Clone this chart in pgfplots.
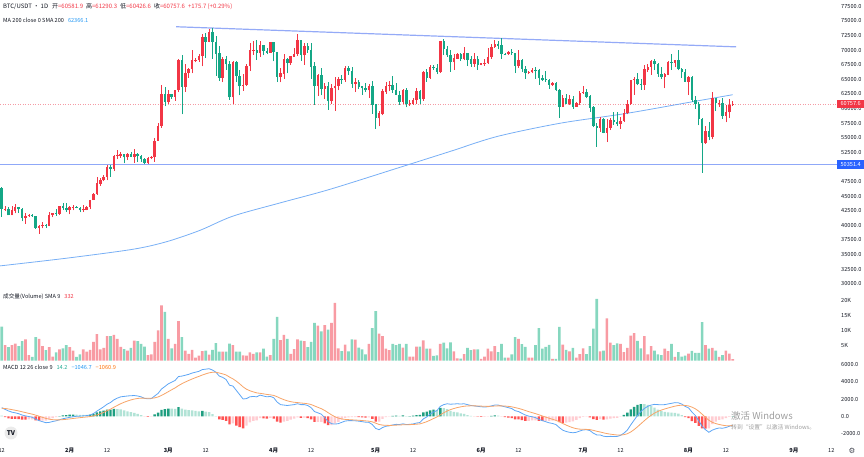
\documentclass[border=0pt]{standalone}
\usepackage{fontspec}
\setmainfont{Noto Sans CJK SC}
\newfontfamily\dejavu{DejaVu Sans}
\usepackage{pgfplots}
\usepackage{pgfplotstable}
\pgfplotsset{compat=1.18}

\definecolor{upc}{HTML}{F23645}
\definecolor{dnc}{HTML}{14A786}
\definecolor{volup}{HTML}{F89BA3}
\definecolor{voldn}{HTML}{86D7BF}
\definecolor{hdg}{HTML}{1E9E80}
\definecolor{hlg}{HTML}{B2E3D6}
\definecolor{hrd}{HTML}{FF5252}
\definecolor{hpk}{HTML}{FFCDD2}
\definecolor{macdc}{HTML}{5EA6F5}
\definecolor{sigc}{HTML}{F7A468}
\definecolor{mac}{HTML}{78AFF5}
\definecolor{trendc}{HTML}{94AAF7}
\definecolor{hlinec}{HTML}{8FA8F8}
\definecolor{badgeb}{HTML}{2962FF}
\definecolor{txt}{HTML}{131722}
\definecolor{txtg}{HTML}{434651}
\definecolor{bluet}{HTML}{2196F3}
\definecolor{oranget}{HTML}{FF6D00}
\definecolor{greent}{HTML}{22AB94}
\definecolor{dotc}{HTML}{F59AA3}

\pgfplotstableread{
n o h l c v m s g k
0 46340 46500 41500 42780 11.4 1000 930 70 1
1 42780 43250 42440 42840 5.2 800 904 -104 2
2 42840 43080 41720 41730 4.5 620 847 -227 2
3 41730 43400 41720 42510 5.2 480 774 -294 2
4 42510 43580 42050 43150 5.7 400 699 -299 2
5 43150 43200 42200 42740 4.9 300 619 -319 2
6 42740 42930 40680 41260 6.5 150 525 -375 2
7 41260 42180 40280 41620 7.1 50 430 -380 2
8 41620 41870 41450 41660 1.9 -30 338 -368 3
9 41660 41870 41500 41550 1.3 -110 248 -358 3
10 41550 41690 39430 39510 7.9 -330 132 -462 2
11 39510 40130 38560 39870 7.3 -500 6 -506 2
12 39870 40550 39480 40080 4.9 -620 -119 -501 3
13 40080 40290 39540 39930 3.5 -740 -243 -497 3
14 39930 42210 39820 41820 4.5 -700 -334 -366 3
15 41820 42200 41390 42120 1.4 -600 -387 -213 3
16 42120 42840 41620 42030 2.8 -520 -414 -106 3
17 42030 43310 41800 43300 3.8 -400 -411 11 0
18 43300 43880 42680 42950 4.1 -280 -385 105 0
19 42950 43750 42290 42580 5.2 -200 -348 148 0
20 42580 43290 41880 43080 4.5 -120 -302 182 0
21 43080 43490 42580 43190 3.4 -50 -252 202 0
22 43190 43380 42890 43000 1.3 0 -202 202 1
23 43000 43120 42220 42580 2.1 20 -158 178 1
24 42580 43540 42260 42700 3.8 50 -116 166 1
25 42700 43400 42580 43090 3.0 80 -77 157 1
26 43090 44380 42790 44340 3.6 150 -32 182 0
27 44340 45600 44330 45290 6.3 320 38 282 0
28 45290 48200 45250 47130 8.9 600 150 450 0
29 47130 48170 46800 47750 3.8 850 290 560 0
30 47750 48590 47540 48290 4.3 1100 452 648 0
31 48290 50330 47710 49960 8.2 1400 642 758 0
32 49960 50370 48300 49700 8.2 1600 834 766 0
33 49700 52040 49280 51800 8.6 1900 1047 853 0
34 51800 52820 51320 51940 7.3 2100 1258 842 1
35 51940 52580 51600 52130 4.6 2250 1456 794 1
36 52130 52190 50620 51660 3.9 2300 1625 675 1
37 51660 52370 51150 52120 3.4 2350 1770 580 1
38 52120 52490 51680 51780 4.3 2380 1892 488 1
39 51780 53000 50640 52260 6.7 2400 1994 406 1
40 52260 52370 50830 51850 6.5 2350 2065 285 1
41 51850 52100 50880 51300 5.6 2250 2102 148 1
42 51300 51550 50500 50740 4.7 2080 2098 -18 2
43 50740 51700 50580 51570 1.9 2020 2082 -62 2
44 51570 51950 51290 51730 2.1 2050 2076 -26 3
45 51730 54940 50900 54480 6.3 2350 2131 219 0
46 54480 57590 54450 57040 10.1 2650 2235 415 0
47 57040 64000 56690 62430 18.4 3150 2418 732 0
48 62430 63680 60360 61130 16.3 3450 2624 826 0
49 61130 63110 60780 62390 7.3 3750 2849 901 0
50 62390 62430 61660 61990 4.1 3950 3069 881 1
51 61990 63230 61320 63110 5.6 4150 3285 865 1
52 63110 68500 62780 68250 13.2 4600 3548 1052 0
53 68250 69170 59000 63710 7.9 4650 3768 882 1
54 63710 67640 62850 66070 3.4 4750 3964 786 1
55 66070 67000 65300 66810 2.3 4850 4141 709 1
56 66810 69990 66000 68240 3.6 5000 4313 687 1
57 68240 68590 67900 68300 1.0 5100 4470 630 1
58 68300 69400 68050 68950 1.7 5200 4616 584 1
59 68950 72800 67200 72120 3.2 5400 4773 627 0
60 72120 73000 68620 71450 3.4 5450 4908 542 1
61 71450 73650 71330 73070 2.0 5500 5026 474 1
62 73070 73777 68550 71390 3.6 5350 5091 259 1
63 71390 72420 65630 69400 5.9 5100 5093 7 1
64 69400 70620 64780 65300 3.0 4650 5004 -354 2
65 65300 68900 64530 68390 3.0 4500 4903 -403 2
66 68390 68920 66600 67550 3.0 4250 4772 -522 2
67 67550 68100 61500 61910 5.7 3600 4538 -938 2
68 61910 68100 60780 67910 5.2 3500 4330 -830 3
69 67910 68200 64530 65490 3.0 3000 4064 -1064 2
70 65490 66650 62260 63780 3.0 2500 3751 -1251 2
71 63780 65970 63070 64060 1.8 2000 3401 -1401 2
72 64060 67620 63820 67230 1.7 2050 3131 -1081 3
73 67230 71150 66390 69960 2.8 2250 2955 -705 3
74 69960 71560 69220 69990 2.3 2300 2824 -524 3
75 69990 71770 68380 69460 2.8 2250 2709 -459 3
76 69460 71550 68900 70780 2.8 2450 2657 -207 3
77 70780 70920 69080 69850 4.0 2350 2596 -246 2
78 69850 70360 69250 69580 1.4 2250 2527 -277 2
79 69580 71370 69560 71280 1.9 2300 2482 -182 3
80 71280 71290 68060 69650 7.3 2150 2416 -266 2
81 69650 69700 64500 65460 14.6 1650 2263 -613 2
82 65460 66910 64490 65960 6.9 1350 2080 -730 2
83 65960 69290 65080 68500 8.6 1300 1924 -624 3
84 68500 68720 66010 67840 7.3 1250 1789 -539 3
85 67840 69000 67450 68900 2.3 1300 1691 -391 3
86 68900 70330 68850 69360 3.9 1350 1623 -273 3
87 69360 72800 69040 71620 7.1 1450 1588 -138 3
88 71620 71760 68210 69140 6.7 1350 1540 -190 2
89 69140 71170 67520 70590 6.5 1350 1502 -152 3
90 70590 71260 69560 70060 4.5 1250 1452 -202 2
91 70060 71230 65090 67190 6.3 1000 1362 -362 2
92 67190 67930 60660 63820 12.6 550 1200 -650 2
93 63820 65840 62130 65740 11.7 400 1040 -640 3
94 65740 66870 62270 63420 9.8 250 882 -632 3
95 63420 64370 61600 63790 11.9 -150 676 -826 2
96 63790 64490 59770 61280 10.4 -600 421 -1021 2
97 61280 64130 60800 63470 12.6 -850 167 -1017 3
98 63470 65450 59600 63820 19.3 -900 -46 -854 3
99 63820 65390 63090 64940 4.1 -850 -207 -643 3
100 64940 65700 64280 64930 3.2 -700 -306 -394 3
101 64930 67230 64500 66840 5.4 -550 -355 -195 3
102 66840 67200 65800 66410 3.1 -500 -384 -116 3
103 66410 67080 63600 64280 7.1 -500 -407 -93 3
104 64280 65300 62790 64500 7.0 -520 -430 -90 3
105 64500 64800 63300 63770 4.4 -560 -456 -104 2
106 63770 63920 62390 63460 3.8 -620 -489 -131 2
107 63460 64360 62810 63120 2.1 -680 -527 -153 2
108 63120 64230 61800 63840 5.6 -700 -562 -138 3
109 63840 64730 59100 60670 10.9 -950 -640 -310 2
110 60670 60780 56550 58320 16.5 -1400 -792 -608 2
111 58320 59600 56940 59120 9.0 -1550 -944 -606 3
112 59120 63330 58810 62890 8.2 -1300 -1015 -285 3
113 62890 64500 62570 63890 4.0 -1150 -1042 -108 3
114 63890 64650 62960 64030 3.5 -1100 -1054 -46 3
115 64030 65490 62700 63160 5.6 -1000 -1043 43 0
116 63160 64400 62300 62330 5.2 -930 -1020 90 0
117 62330 63050 60630 61190 5.6 -950 -1006 56 1
118 61190 63420 60750 63070 4.4 -870 -979 109 0
119 63070 63470 60190 60790 5.6 -950 -973 23 1
120 60790 61490 60490 60830 1.4 -930 -964 34 0
121 60830 61820 60630 61460 1.4 -880 -947 67 0
122 61460 63450 60750 62940 4.7 -780 -914 134 0
123 62940 63100 60760 61580 4.7 -720 -875 155 0
124 61580 66440 61330 66270 6.8 -300 -760 460 0
125 66270 66700 64600 65230 4.0 -80 -624 544 0
126 65230 67450 65110 67050 4.0 250 -449 699 0
127 67050 67400 66600 66940 1.6 500 -259 759 0
128 66940 67700 65860 66270 1.8 650 -77 727 1
129 66270 71500 66060 71450 5.6 1150 168 982 0
130 71450 71980 69160 70140 6.0 1350 404 946 1
131 70140 70620 68900 69120 4.1 1450 613 837 1
132 69120 70040 66300 67930 6.1 1400 770 630 1
133 67930 69270 66600 68530 3.1 1420 900 520 1
134 68530 69570 68470 69290 0.8 1450 1010 440 1
135 69290 69560 68100 68510 0.7 1420 1092 328 1
136 68510 70600 68230 69390 2.2 1450 1164 286 1
137 69390 69590 67280 68360 4.3 1350 1201 149 1
138 68360 68920 67110 67630 3.5 1250 1211 39 1
139 67630 69500 67130 68360 3.8 1200 1209 -9 2
140 68360 69020 66600 67490 3.8 1150 1197 -47 2
141 67490 67860 67390 67710 0.6 1100 1178 -78 2
142 67710 68450 67300 67750 1.4 1080 1158 -78 3
143 67750 70290 67610 68800 4.0 1100 1146 -46 3
144 68800 71060 68560 70570 3.1 1200 1157 43 0
145 70570 71760 70380 71080 4.9 1300 1186 114 0
146 71080 71630 70120 70760 2.9 1300 1209 91 1
147 70760 71997 68500 69340 5.6 1200 1207 -7 2
148 69340 69580 69150 69300 1.0 1100 1186 -86 2
149 69300 69860 69130 69650 1.0 1000 1149 -149 2
150 69650 70150 69220 69500 2.1 900 1099 -199 2
151 69500 69560 66050 67320 7.9 650 1009 -359 2
152 67320 69990 66900 68240 7.3 550 917 -367 2
153 68240 68450 66300 66750 5.5 350 804 -454 2
154 66750 67300 65080 66010 4.6 150 673 -523 2
155 66010 66400 65870 66190 1.0 20 542 -522 3
156 66190 66900 66030 66640 1.0 -50 424 -474 3
157 66640 67190 65100 66490 5.2 -150 309 -459 3
158 66490 66790 64060 65150 10.9 -350 177 -527 2
159 65150 65730 64690 64960 4.0 -500 42 -542 2
160 64960 66480 64520 64830 4.6 -620 -90 -530 3
161 64830 65070 63380 64100 5.3 -750 -222 -528 3
162 64100 64520 63920 64250 0.6 -830 -344 -486 3
163 64250 64490 63000 63180 0.6 -950 -465 -485 3
164 63180 63370 58400 60280 11.3 -1300 -632 -668 2
165 60280 62340 60240 61800 5.4 -1600 -826 -774 2
166 61800 62480 60770 60860 3.6 -1750 -1011 -739 3
167 60860 62390 60630 61670 3.1 -1850 -1179 -671 3
168 61670 62200 60000 60320 4.3 -1900 -1323 -577 3
169 60320 61200 60300 60890 1.0 -1850 -1428 -422 3
170 60890 63000 60650 62670 2.2 -1700 -1482 -218 3
171 62670 63850 62490 62850 4.1 -1580 -1502 -78 3
172 62850 63300 61760 62030 2.2 -1550 -1512 -38 3
173 62030 62300 59400 60150 4.9 -1650 -1540 -110 2
174 60150 60500 56770 56990 10.7 -1950 -1622 -328 2
175 56990 57550 53500 56610 20.6 -2150 -1728 -422 2
176 56610 58470 56020 58240 3.1 -2150 -1812 -338 3
177 58240 58380 55730 55850 3.4 -2300 -1910 -390 2
178 55850 58240 54260 56700 14.1 -2350 -1998 -352 3
179 56700 58300 56300 58050 6.0 -2320 -2062 -258 3
180 58050 59470 57160 57720 5.2 -2330 -2116 -214 3
181 57720 59350 57050 57340 5.8 -2330 -2159 -171 3
182 57340 58520 56580 57900 5.6 -2200 -2167 -33 3
183 57900 59850 57740 59230 2.9 -1950 -2124 174 0
184 59230 61420 59000 60790 4.3 -1600 -2019 419 0
185 60790 64900 60640 64870 8.4 -1000 -1815 815 0
186 64870 65380 62390 65100 9.2 -450 -1542 1092 0
187 65100 66130 63970 64120 6.6 100 -1214 1314 0
188 64120 65130 63200 63990 4.1 550 -861 1411 0
189 63990 67480 63250 66660 8.2 900 -509 1409 1
190 66660 67600 66220 67140 2.1 1150 -177 1327 1
191 67140 68370 65800 68170 4.9 1300 118 1182 1
192 68170 68480 66580 67550 3.4 1380 370 1010 1
193 67550 67820 65460 65930 2.1 1350 566 784 1
194 65930 67100 65110 65370 1.9 1330 719 611 1
195 65370 66150 63450 65800 4.0 1350 845 505 1
196 65800 68210 65740 67900 3.2 1430 962 468 1
197 67900 69400 66640 67810 5.6 1500 1070 430 1
198 67810 68320 67050 68250 1.3 1580 1172 408 1
199 68250 70080 66520 66780 2.9 1560 1250 310 1
200 66780 66990 65300 66190 1.4 1420 1284 136 1
201 66190 66810 64540 64620 1.7 1150 1257 -107 2
202 64620 65600 62300 65350 2.4 980 1202 -222 2
203 65350 65600 61200 61500 3.3 500 1062 -562 2
204 61500 62200 60000 60700 2.6 100 870 -770 2
205 60700 61120 57120 58160 2.6 -500 596 -1096 2
206 58160 58300 49000 54020 12.9 -1150 247 -1397 2
207 54020 57050 53960 56040 5.2 -1550 -112 -1438 2
208 56040 57720 54560 55130 4.0 -1850 -460 -1390 3
209 55130 62750 54730 61710 4.3 -1600 -688 -912 3
210 61710 61800 59570 60880 3.4 -1450 -840 -610 3
211 60880 61470 60250 60950 1.3 -1350 -942 -408 3
212 60950 61850 58290 58710 1.9 -1380 -1030 -350 3
213 58710 60680 57640 59350 3.4 -1300 -1084 -216 3
214 59350 61570 58400 60600 2.4 -1150 -1097 -53 3
215 60581.9 61290.3 60426.6 60757.6 0.5 -1046.7 -1060.9 14.2 0
}\data

\pgfplotsset{
  tvaxis/.style={
    scale only axis, width=837pt, xmin=-0.5, xmax=245.68,
    anchor=south west, enlargelimits=false,
    axis line style={draw=none},
    major tick length=0pt, xtick style={draw=none}, ytick style={draw=none},
    xtick=\empty,
    yticklabel pos=right,
    yticklabel style={anchor=west, inner sep=0pt, xshift=4pt,
      font=\fontsize{5.6}{6}\selectfont, text=txt},
  },
  upflt/.style={restrict expr to domain={\thisrow{c}-\thisrow{o}}{0:100000}},
  dnflt/.style={restrict expr to domain={\thisrow{c}-\thisrow{o}}{-100000:-0.001}},
}

\begin{document}
\begin{tikzpicture}[x=1pt,y=1pt]
\path[use as bounding box] (0,0) rectangle (864,456);

% ---------- price pane ----------
\begin{axis}[tvaxis, at={(0pt,168pt)}, height=288pt,
  ymin=29281, ymax=78578,
  ytick={30000,32500,35000,37500,40000,42500,45000,47500,52500,55000,57500,60000,62500,65000,67500,70000,72500,75000,77500},
  yticklabels={30000.0,32500.0,35000.0,37500.0,40000.0,42500.0,45000.0,47500.0,52500.0,55000.0,57500.0,60000.0,62500.0,65000.0,67500.0,70000.0,72500.0,75000.0,77500.0}]
% horizontal level line
\addplot[hlinec, line width=1.1pt] coordinates {(-0.5,50351.4) (245.68,50351.4)};
% current price dotted line
\addplot[dotc, line width=0.5pt, dash pattern=on 1pt off 1.5pt] coordinates {(-0.5,60757.6) (245.68,60757.6)};
% MA 200
\addplot[mac, line width=0.8pt, smooth] coordinates {
(-0.5,33066) (19,34378) (38.6,35911) (48.5,37206) (58.3,39148) (68,41584)
(81.9,43850) (96.6,46184) (117.1,49932) (131.9,52658) (145.7,55213)
(164.2,57479) (183.9,59182) (203.3,61175) (215,62366)};
% trend line
\addplot[trendc, line width=1.2pt] coordinates {(51.3,74000) (216,70558)};
% wicks
\addplot[draw=none, mark=none, upflt,
  error bars/y dir=plus, error bars/y explicit, error bars/error mark=none,
  error bars/error bar style={draw=upc, line width=0.7pt}]
  table[x=n, y=l, y error plus expr={\thisrow{h}-\thisrow{l}}] {\data};
\addplot[draw=none, mark=none, dnflt,
  error bars/y dir=plus, error bars/y explicit, error bars/error mark=none,
  error bars/error bar style={draw=dnc, line width=0.7pt}]
  table[x=n, y=l, y error plus expr={\thisrow{h}-\thisrow{l}}] {\data};
% bodies
\addplot[draw=none, mark=none, upflt,
  error bars/y dir=plus, error bars/y explicit, error bars/error mark=none,
  error bars/error bar style={draw=upc, line width=2.4pt}]
  table[x=n, y=o, y error plus expr={\thisrow{c}-\thisrow{o}+40}] {\data};
\addplot[draw=none, mark=none, dnflt,
  error bars/y dir=plus, error bars/y explicit, error bars/error mark=none,
  error bars/error bar style={draw=dnc, line width=2.4pt}]
  table[x=n, y=c, y error plus expr={\thisrow{o}-\thisrow{c}+40}] {\data};
\end{axis}

% ---------- volume pane ----------
\begin{axis}[tvaxis, at={(0pt,94pt)}, height=74pt,
  ymin=-0.43, ymax=24.23,
  ytick={5,10,15,20}, yticklabels={5K,10K,15K,20K}]
\addplot[ybar, bar width=2.6pt, bar shift=0pt, draw=none, fill=volup, upflt] table[x=n,y=v] {\data};
\addplot[ybar, bar width=2.6pt, bar shift=0pt, draw=none, fill=voldn, dnflt] table[x=n,y=v] {\data};
\end{axis}

% ---------- MACD pane ----------
\begin{axis}[tvaxis, at={(0pt,14pt)}, height=80pt,
  ymin=-2971, ymax=6277,
  ytick={-2000,0,2000,4000,6000},
  yticklabels={-2000.0,0.0,2000.0,4000.0,6000.0},
  xtick={0,20,31,49,60,80,91,110,121,141,152,171,182,202,213,233,244},
  xticklabels={12,\textbf{2月},12,\textbf{3月},12,\textbf{4月},12,\textbf{5月},12,\textbf{6月},12,\textbf{7月},12,\textbf{8月},12,\textbf{9月},12},
  xticklabel style={anchor=center, yshift=-8.7pt, font=\fontsize{5.6}{6}\selectfont, text=txt}]
\addplot[ybar, bar width=2.4pt, bar shift=0pt, draw=none, fill=hdg,
  restrict expr to domain={\thisrow{k}}{-0.5:0.5}] table[x=n,y=g] {\data};
\addplot[ybar, bar width=2.4pt, bar shift=0pt, draw=none, fill=hlg,
  restrict expr to domain={\thisrow{k}}{0.5:1.5}] table[x=n,y=g] {\data};
\addplot[ybar, bar width=2.4pt, bar shift=0pt, draw=none, fill=hrd,
  restrict expr to domain={\thisrow{k}}{1.5:2.5}] table[x=n,y=g] {\data};
\addplot[ybar, bar width=2.4pt, bar shift=0pt, draw=none, fill=hpk,
  restrict expr to domain={\thisrow{k}}{2.5:3.5}] table[x=n,y=g] {\data};
\addplot[macdc, line width=0.8pt] table[x=n,y=m] {\data};
\addplot[sigc, line width=0.8pt] table[x=n,y=s] {\data};
\end{axis}

% ---------- badges ----------
\node[fill=upc, text=white, anchor=west, inner sep=0pt, minimum width=27pt, minimum height=8.5pt,
  font=\fontsize{5.6}{6}\selectfont] at (837,352) {60757.6};
\node[fill=badgeb, text=white, anchor=west, inner sep=0pt, minimum width=27pt, minimum height=8.5pt,
  font=\fontsize{5.6}{6}\selectfont] at (837,291.7) {50351.4};

% ---------- legends / headers ----------
\node[anchor=west, inner sep=0pt, font=\fontsize{6}{7}\selectfont, text=txt] at (3,449)
  {BTC/USDT · 1D\hspace{4pt}开\textcolor{upc}{=60581.9}\hspace{3pt}高\textcolor{upc}{=61290.3}\hspace{3pt}低\textcolor{upc}{=60426.6}\hspace{3pt}收\textcolor{upc}{=60757.6}\hspace{3pt}\textcolor{upc}{+175.7 (+0.29\%)}};
\node[anchor=west, inner sep=0pt, font=\fontsize{5.6}{7}\selectfont, text=txt] at (3,436)
  {MA 200 close 0 SMA 200\hspace{4pt}\textcolor{bluet}{62366.1}};
\node[anchor=west, inner sep=0pt, font=\fontsize{5.6}{7}\selectfont, text=txt] at (3,159)
  {成交量(Volume) SMA 9\hspace{4pt}\textcolor{upc}{332}};
\node[anchor=west, inner sep=0pt, font=\fontsize{5.6}{7}\selectfont, text=txt] at (3,89)
  {MACD 12 26 close 9\hspace{4pt}\textcolor{greent}{14.2}\hspace{4pt}\textcolor{bluet}{−1046.7}\hspace{4pt}\textcolor{oranget}{−1060.9}};

% ---------- logo, gear, watermark ----------
\node[circle, fill=black!8, inner sep=1.2pt, font=\bfseries\fontsize{6.5}{7}\selectfont, text=txt] at (11,23) {TV};
\node[font=\dejavu\fontsize{7.5}{8}\selectfont, text=txtg] at (852,5.5) {⚙};
\node[anchor=west, inner sep=0pt, font=\fontsize{9.5}{10}\selectfont, text=black!38] at (731,40) {激活 Windows};
\node[anchor=west, inner sep=0pt, font=\fontsize{5.8}{7}\selectfont, text=black!38] at (731,29) {转到“设置”以激活 Windows。};
\end{tikzpicture}
\end{document}
